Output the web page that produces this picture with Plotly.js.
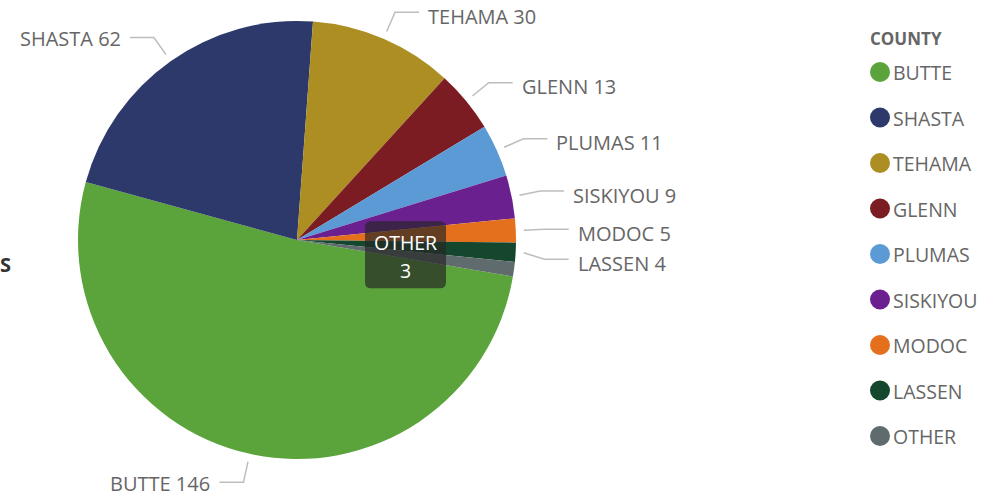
<!DOCTYPE html>
<html>
<head>
<meta charset="utf-8">
<script src="https://cdn.plot.ly/plotly-3.0.1.min.js"></script>
<style>html,body{margin:0;padding:0;background:#fff}#chart{width:1008px;height:496px}</style>
</head>
<body>
<div id="chart"></div>
<script>
// ---- data ----
const counties = ["BUTTE", "SHASTA", "TEHAMA", "GLENN", "PLUMAS", "SISKIYOU", "MODOC", "LASSEN", "OTHER"];
const counts   = [146, 62, 30, 13, 11, 9, 5, 4, 3];
const colors   = ["#5BA33B", "#2D386B", "#AD8E22", "#7B1C23", "#5B9AD5", "#6B2090", "#E4701E", "#14472D", "#5F6B6C"];
const legendTitle = "COUNTY";
const sideTitle = "S";

// ---- layout helpers ----
const W = 1008, H = 496;
const cx = 297, cy = 240, R = 219;
const rotation = 99.6;
const px = x => x / W;
const py = y => 1 - y / H;
const labelFont = {family: "Open Sans, Noto Sans, sans-serif", size: 20, color: "#666666"};
const legendFont = {family: "Open Sans, Noto Sans, sans-serif", size: 19.5, color: "#666666"};
const lineColor = "#BDBDBD";

const total = counts.reduce((a, b) => a + b, 0);
const shapes = [];
const annotations = [];

// slice label placement computed from the slice angles
let acc = 0;
const labels = [];
counts.forEach((v, i) => {
  const mid = rotation + (acc + v / 2) / total * 360;
  acc += v;
  const t = mid * Math.PI / 180;
  const s = Math.sin(t), c = Math.cos(t);
  labels.push({i, s, c,
    ax: cx + (R + 8) * s, ay: cy - (R + 8) * c,
    ex: cx + (R + 29) * s, ey: cy - (R + 29) * c,
    right: s >= 0});
});

const otherIdx = counties.length - 1;
const outer = labels.filter(l => l.i !== otherIdx);
// simple collision avoidance per side
["right", "left"].forEach(side => {
  const grp = outer.filter(l => (side === "right") === l.right).sort((a, b) => a.ey - b.ey);
  for (let k = 1; k < grp.length; k++) {
    if (grp[k].ey < grp[k - 1].ey + 30) grp[k].ey = grp[k - 1].ey + 30;
  }
});

outer.forEach(l => {
  const dir = l.right ? 1 : -1;
  const hx = l.ex + dir * 24;
  shapes.push({type: "path", xref: "paper", yref: "paper",
    path: `M ${px(l.ax)},${py(l.ay)} L ${px(l.ex)},${py(l.ey)} L ${px(hx)},${py(l.ey)}`,
    line: {color: lineColor, width: 1.5}});
  annotations.push({xref: "paper", yref: "paper", x: px(hx + dir * 7), y: py(l.ey + (l.right ? 4 : 1.5)),
    xanchor: l.right ? "left" : "right", yanchor: "middle", showarrow: false,
    text: counties[l.i] + " " + counts[l.i], font: labelFont});
});

// OTHER callout box at half radius of its slice
const o = labels[otherIdx];
const bx = cx + 0.5 * R * o.s, by = cy - 0.5 * R * o.c;
const bw = 81, bh = 67, rr = 6;
const x0 = bx - bw / 2, x1 = bx + bw / 2, y0 = by - bh / 2, y1 = by + bh / 2;
shapes.push({type: "path", xref: "paper", yref: "paper", layer: "above",
  path: `M ${px(x0 + rr)},${py(y0)} L ${px(x1 - rr)},${py(y0)} Q ${px(x1)},${py(y0)} ${px(x1)},${py(y0 + rr)} ` +
        `L ${px(x1)},${py(y1 - rr)} Q ${px(x1)},${py(y1)} ${px(x1 - rr)},${py(y1)} ` +
        `L ${px(x0 + rr)},${py(y1)} Q ${px(x0)},${py(y1)} ${px(x0)},${py(y1 - rr)} ` +
        `L ${px(x0)},${py(y0 + rr)} Q ${px(x0)},${py(y0)} ${px(x0 + rr)},${py(y0)} Z`,
  fillcolor: "rgba(38,38,38,0.68)", line: {width: 0}});
const whiteFont = {family: "Open Sans, Noto Sans, sans-serif", size: 19.5, color: "#FFFFFF"};
annotations.push({xref: "paper", yref: "paper", x: px(bx), y: py(by - 12), xanchor: "center", yanchor: "middle",
  showarrow: false, text: counties[otherIdx], font: whiteFont});
annotations.push({xref: "paper", yref: "paper", x: px(bx), y: py(by + 16), xanchor: "center", yanchor: "middle",
  showarrow: false, text: String(counts[otherIdx]), font: whiteFont});

// legend (circle markers)
annotations.push({xref: "paper", yref: "paper", x: px(868), y: py(39), xanchor: "left", yanchor: "middle",
  showarrow: false, text: "<b>" + legendTitle + "</b>",
  font: {family: "Open Sans, Noto Sans, sans-serif", size: 17, color: "#666666"}});
counties.forEach((name, i) => {
  const yc = 72 + i * 45.5;
  shapes.push({type: "circle", xref: "paper", yref: "paper",
    x0: px(870), x1: px(890), y0: py(yc + 10), y1: py(yc - 10),
    fillcolor: colors[i], line: {width: 0}});
  annotations.push({xref: "paper", yref: "paper", x: px(891), y: py(yc + 0.5), xanchor: "left", yanchor: "middle",
    showarrow: false, text: name, font: legendFont});
});

// cut-off title at left edge
annotations.push({xref: "paper", yref: "paper", x: px(-2), y: py(264), xanchor: "left", yanchor: "middle",
  showarrow: false, text: "<b>" + sideTitle + "</b>",
  font: {family: "Open Sans, Noto Sans, sans-serif", size: 20, color: "#333333"}});

const trace = {
  type: "pie",
  labels: counties,
  values: counts,
  marker: {colors: colors, line: {width: 0}},
  sort: false,
  direction: "clockwise",
  rotation: rotation,
  textinfo: "none",
  hoverinfo: "skip",
  showlegend: false,
  domain: {x: [px(cx - R), px(cx + R)], y: [py(cy + R), py(cy - R)]}
};

Plotly.newPlot("chart", [trace], {
  width: W, height: H,
  margin: {l: 0, r: 0, t: 0, b: 0},
  paper_bgcolor: "#ffffff",
  showlegend: false,
  shapes: shapes,
  annotations: annotations
}, {displayModeBar: false, staticPlot: true});
</script>
</body>
</html>
